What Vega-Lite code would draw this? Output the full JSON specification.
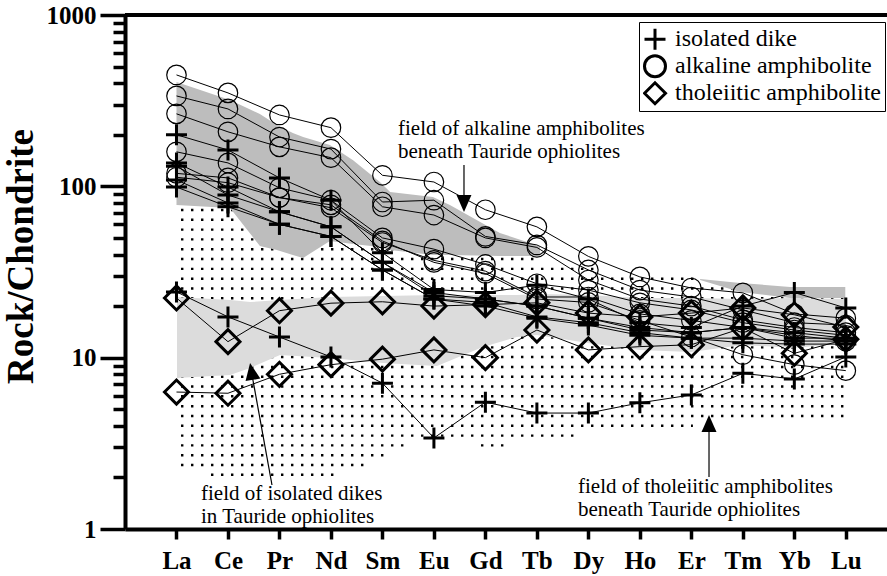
{
  "$schema": "https://vega.github.io/schema/vega-lite/v6.json",
  "width": 762,
  "height": 514,
  "autosize": {"type": "none"},
  "padding": {"left": 125, "top": 15, "right": 0, "bottom": 47},
  "background": "white",
  "config": {"view": {"stroke": null}},
  "datasets": {
    "elements": [
      {"el": "La", "n": 1}, {"el": "Ce", "n": 2}, {"el": "Pr", "n": 3}, {"el": "Nd", "n": 4},
      {"el": "Sm", "n": 5}, {"el": "Eu", "n": 6}, {"el": "Gd", "n": 7}, {"el": "Tb", "n": 8},
      {"el": "Dy", "n": 9}, {"el": "Ho", "n": 10}, {"el": "Er", "n": 11}, {"el": "Tm", "n": 12},
      {"el": "Yb", "n": 13}, {"el": "Lu", "n": 14}
    ],
    "samples": [
      {"sample": "A1", "group": "alkaline amphibolite", "La": 447, "Ce": 351, "Pr": 261, "Nd": 220, "Sm": 116, "Eu": 106, "Gd": 73, "Tb": 58, "Dy": 39, "Ho": 29.6, "Er": 25.5, "Tm": 23.9, "Yb": 18, "Lu": 17},
      {"sample": "A2", "group": "alkaline amphibolite", "La": 337, "Ce": 283, "Pr": 194, "Nd": 165, "Sm": 81, "Eu": 83, "Gd": 51, "Tb": 45.5, "Dy": 32.5, "Ho": 24.8, "Er": 22.6, "Tm": 19, "Yb": 16, "Lu": 15.5},
      {"sample": "A3", "group": "alkaline amphibolite", "La": 265, "Ce": 208, "Pr": 170, "Nd": 147, "Sm": 76, "Eu": 68, "Gd": 50, "Tb": 44, "Dy": 28.4, "Ho": 22, "Er": 20, "Tm": 16.6, "Yb": 15, "Lu": 14},
      {"sample": "A4", "group": "alkaline amphibolite", "La": 159, "Ce": 137, "Pr": 98, "Nd": 83, "Sm": 50, "Eu": 43, "Gd": 35, "Tb": 27, "Dy": 24.8, "Ho": 20.9, "Er": 19, "Tm": 16, "Yb": 14.5, "Lu": 13.5},
      {"sample": "A5", "group": "alkaline amphibolite", "La": 119, "Ce": 112, "Pr": 86, "Nd": 75, "Sm": 47, "Eu": 37, "Gd": 32, "Tb": 22.6, "Dy": 22.6, "Ho": 18, "Er": 16.5, "Tm": 15, "Yb": 13.5, "Lu": 12.5},
      {"sample": "A6", "group": "alkaline amphibolite", "La": 113, "Ce": 105, "Pr": 86, "Nd": 78, "Sm": 48, "Eu": 36, "Gd": 31, "Tb": 22, "Dy": 21, "Ho": 16.5, "Er": 13.2, "Tm": 10.4, "Yb": 9.1, "Lu": 8.4},
      {"sample": "D1", "group": "isolated dike", "La": 200, "Ce": 163, "Pr": 112, "Nd": 83, "Sm": 41, "Eu": 25, "Gd": 24, "Tb": 26.5, "Dy": 22, "Ho": 16, "Er": 15, "Tm": 20, "Yb": 24, "Lu": 19.5},
      {"sample": "D2", "group": "isolated dike", "La": 137, "Ce": 99, "Pr": 71, "Nd": 58, "Sm": 36, "Eu": 24, "Gd": 22, "Tb": 20, "Dy": 17, "Ho": 15, "Er": 14, "Tm": 15, "Yb": 14, "Lu": 13},
      {"sample": "D3", "group": "isolated dike", "La": 131, "Ce": 89, "Pr": 71, "Nd": 58, "Sm": 36, "Eu": 23, "Gd": 22, "Tb": 20, "Dy": 17, "Ho": 14.5, "Er": 14, "Tm": 15, "Yb": 13, "Lu": 13},
      {"sample": "D4", "group": "isolated dike", "La": 109, "Ce": 80, "Pr": 60, "Nd": 51, "Sm": 32.5, "Eu": 22, "Gd": 21, "Tb": 17.3, "Dy": 16, "Ho": 14, "Er": 13, "Tm": 13, "Yb": 12.5, "Lu": 12.5},
      {"sample": "D5", "group": "isolated dike", "La": 99, "Ce": 76, "Pr": 60, "Nd": 51, "Sm": 32.5, "Eu": 22, "Gd": 20, "Tb": 17, "Dy": 15.5, "Ho": 13.5, "Er": 13, "Tm": 12.2, "Yb": 12, "Lu": 12},
      {"sample": "D6", "group": "isolated dike", "La": 24.2, "Ce": 17.3, "Pr": 13.2, "Nd": 10.1, "Sm": 7.1, "Eu": 3.4, "Gd": 5.5, "Tb": 4.75, "Dy": 4.75, "Ho": 5.45, "Er": 6.06, "Tm": 8.1, "Yb": 7.5, "Lu": 10.1},
      {"sample": "T1", "group": "tholeiitic amphibolite", "La": 22.3, "Ce": 12.4, "Pr": 18.8, "Nd": 20.8, "Sm": 21.2, "Eu": 20, "Gd": 20.4, "Tb": 20.9, "Dy": 18.2, "Ho": 17.3, "Er": 18.2, "Tm": 19.5, "Yb": 17.8, "Lu": 15.1},
      {"sample": "T2", "group": "tholeiitic amphibolite", "La": 6.3, "Ce": 6.2, "Pr": 8.0, "Nd": 9.1, "Sm": 9.8, "Eu": 11.1, "Gd": 10, "Tb": 14.5, "Dy": 11.1, "Ho": 11.6, "Er": 11.9, "Tm": 14.9, "Yb": 10.6, "Lu": 12.8}
    ],
    "tholeiiticField": [
      {"level": 72.8, "from": 1.088, "to": 5.341},
      {"level": 63.8, "from": 1.088, "to": 5.341},
      {"level": 55.9, "from": 1.088, "to": 5.341},
      {"level": 49.0, "from": 1.088, "to": 5.73},
      {"level": 42.96, "from": 1.088, "to": 8.06},
      {"level": 37.65, "from": 1.088, "to": 8.06},
      {"level": 32.97, "from": 1.088, "to": 9.226},
      {"level": 28.9, "from": 1.088, "to": 11.168},
      {"level": 25.33, "from": 1.088, "to": 13.985},
      {"level": 22.2, "from": 1.088, "to": 13.985},
      {"level": 19.47, "from": 1.088, "to": 13.985},
      {"level": 17.06, "from": 1.088, "to": 13.985},
      {"level": 14.96, "from": 1.088, "to": 13.985},
      {"level": 13.11, "from": 1.088, "to": 13.985},
      {"level": 11.49, "from": 1.088, "to": 13.985},
      {"level": 10.08, "from": 1.088, "to": 13.985},
      {"level": 8.83, "from": 1.088, "to": 13.985},
      {"level": 7.74, "from": 1.088, "to": 13.985},
      {"level": 6.79, "from": 1.088, "to": 13.985},
      {"level": 5.95, "from": 1.088, "to": 13.985},
      {"level": 5.21, "from": 1.088, "to": 13.985},
      {"level": 4.566, "from": 1.088, "to": 13.985},
      {"level": 4.003, "from": 1.088, "to": 11.03},
      {"level": 3.509, "from": 1.088, "to": 8.837},
      {"level": 3.075, "from": 1.088, "to": 5.535},
      {"level": 3.075, "from": 6.9145, "to": 7.419},
      {"level": 2.696, "from": 1.088, "to": 5.147},
      {"level": 2.363, "from": 1.088, "to": 4.70},
      {"level": 2.072, "from": 1.6704, "to": 4.118}
    ],
    "alkalineField": [
      {"part": "main", "x": 1.0, "top": 406, "bottom": 77.8},
      {"part": "main", "x": 2.04, "top": 319, "bottom": 74.7},
      {"part": "main", "x": 2.62, "top": 264, "bottom": 44.8},
      {"part": "main", "x": 2.95, "top": 228, "bottom": 42.5},
      {"part": "main", "x": 3.26, "top": 205, "bottom": 39.7},
      {"part": "main", "x": 3.46, "top": 194, "bottom": 38.2},
      {"part": "main", "x": 3.98, "top": 174, "bottom": 48.0},
      {"part": "main", "x": 4.43, "top": 142, "bottom": 46.1},
      {"part": "main", "x": 4.95, "top": 106, "bottom": 44.2},
      {"part": "main", "x": 5.15, "top": 92.7, "bottom": 42.5},
      {"part": "main", "x": 5.98, "top": 86.6, "bottom": 39.7},
      {"part": "main", "x": 6.31, "top": 77.8, "bottom": 39.7},
      {"part": "main", "x": 7.28, "top": 53.4, "bottom": 39.2},
      {"part": "main", "x": 7.87, "top": 46.7, "bottom": 39.2},
      {"part": "main", "x": 8.06, "top": 44.2, "bottom": 39.2},
      {"part": "tail", "x": 11.17, "top": 28.8, "bottom": 28.4},
      {"part": "tail", "x": 11.95, "top": 27.3, "bottom": 24.2},
      {"part": "tail", "x": 12.92, "top": 25.85, "bottom": 22.3},
      {"part": "tail", "x": 13.99, "top": 25.85, "bottom": 22.3}
    ],
    "dikeField": [
      {"x": 1.01, "top": 22.6, "bottom": 7.61},
      {"x": 2.04, "top": 21.7, "bottom": 7.92},
      {"x": 2.43, "top": 21.1, "bottom": 8.71},
      {"x": 3.01, "top": 21.7, "bottom": 10.37},
      {"x": 3.98, "top": 22.6, "bottom": 9.96},
      {"x": 5.01, "top": 22.9, "bottom": 9.31},
      {"x": 6.06, "top": 23.2, "bottom": 8.94},
      {"x": 6.95, "top": 23.2, "bottom": 11.54},
      {"x": 7.61, "top": 23.2, "bottom": 13.2},
      {"x": 8.0, "top": 23.5, "bottom": 13.56},
      {"x": 8.99, "top": 23.2, "bottom": 12.18},
      {"x": 10.0, "top": 22.3, "bottom": 11.08},
      {"x": 10.99, "top": 22.3, "bottom": 10.79},
      {"x": 12.0, "top": 22.0, "bottom": 11.86},
      {"x": 12.99, "top": 22.3, "bottom": 11.39},
      {"x": 14.0, "top": 22.0, "bottom": 12.18}
    ]
  },
  "layer": [
    {
      "data": {"name": "tholeiiticField"},
      "mark": {"type": "rule", "strokeDash": [2.4, 7.6], "strokeWidth": 2.4, "color": "black", "strokeCap": "butt"},
      "encoding": {
        "x": {"field": "from", "type": "quantitative", "scale": {"domain": [0, 14.8], "nice": false, "zero": false},
          "axis": {"values": [1,2,3,4,5,6,7,8,9,10,11,12,13,14],
            "labelExpr": "['','La','Ce','Pr','Nd','Sm','Eu','Gd','Tb','Dy','Ho','Er','Tm','Yb','Lu'][datum.value]",
            "title": null, "grid": false, "tickSize": 10, "tickWidth": 3.5, "tickColor": "black",
            "domainColor": "black", "domainWidth": 4, "labelFont": "Liberation Serif", "labelFontWeight": "bold",
            "labelFontSize": 25, "labelColor": "black", "labelPadding": 9, "labelFlush": false, "labelOverlap": false}},
        "x2": {"field": "to"},
        "y": {"field": "level", "type": "quantitative",
          "scale": {"type": "log", "domain": [1, 1000], "nice": false},
          "axis": {"values": [1,2,3,4,5,6,7,8,9,10,20,30,40,50,60,70,80,90,100,200,300,400,500,600,700,800,900,1000],
            "labelExpr": "indexof([1,10,100,1000], datum.value) >= 0 ? '' + datum.value : ''",
            "tickSize": {"condition": {"test": "indexof([1,10,100,1000], datum.value) >= 0", "value": 25}, "value": 12},
            "tickWidth": 3.5, "tickColor": "black", "domainColor": "black", "domainWidth": 4,
            "labelFont": "Liberation Serif", "labelFontWeight": "bold", "labelFontSize": 25, "labelColor": "black",
            "labelPadding": 4, "labelFlush": false, "labelOverlap": false, "grid": false,
            "title": "Rock/Chondrite", "titleFont": "Liberation Serif", "titleFontSize": 37, "titleFontWeight": "bold",
            "titleColor": "black", "titlePadding": 6, "titleY": 241}}
      }
    },
    {
      "data": {"name": "alkalineField"},
      "mark": {"type": "area", "color": "#bdbdbd", "opacity": 1, "interpolate": "linear"},
      "encoding": {
        "x": {"field": "x", "type": "quantitative"},
        "y": {"field": "top", "type": "quantitative"},
        "y2": {"field": "bottom"},
        "detail": {"field": "part"}
      }
    },
    {
      "data": {"name": "dikeField"},
      "mark": {"type": "area", "color": "#dcdcdc", "opacity": 1, "interpolate": "linear"},
      "encoding": {
        "x": {"field": "x", "type": "quantitative"},
        "y": {"field": "top", "type": "quantitative"},
        "y2": {"field": "bottom"}
      }
    },
    {
      "data": {"name": "samples"},
      "transform": [
        {"fold": ["La","Ce","Pr","Nd","Sm","Eu","Gd","Tb","Dy","Ho","Er","Tm","Yb","Lu"], "as": ["el", "v"]},
        {"lookup": "el", "from": {"data": {"name": "elements"}, "key": "el", "fields": ["n"]}}
      ],
      "layer": [
        {
          "mark": {"type": "line", "color": "black", "strokeWidth": 1},
          "encoding": {
            "x": {"field": "n", "type": "quantitative"},
            "y": {"field": "v", "type": "quantitative"},
            "detail": {"field": "sample"}
          }
        },
        {
          "mark": {"type": "point", "filled": false, "color": "black", "opacity": 1},
          "encoding": {
            "x": {"field": "n", "type": "quantitative"},
            "y": {"field": "v", "type": "quantitative"},
            "shape": {"field": "group", "type": "nominal",
              "scale": {"domain": ["isolated dike", "alkaline amphibolite", "tholeiitic amphibolite"],
                        "range": ["M-1,0L1,0M0,-1L0,1", "circle", "diamond"]},
              "legend": {"title": null, "orient": "none", "legendX": 514, "legendY": 7,
                "strokeColor": "black", "fillColor": "white", "padding": 4,
                "labelFont": "Liberation Serif", "labelFontSize": 24, "labelColor": "black", "labelLimit": 400,
                "rowPadding": 0, "clipHeight": 26.5, "labelOffset": 8, "symbolStrokeColor": "black", "symbolFillColor": "transparent",
                "symbolSize": 441, "symbolStrokeWidth": 3,
                "encode": {
                  "legend": {"update": {"strokeWidth": {"value": 1.5}}},
                  "symbols": {"update": {
                    "size": {"signal": "datum.value === 'tholeiitic amphibolite' ? 420 : 441"},
                    "strokeWidth": {"signal": "datum.value === 'alkaline amphibolite' ? 1.6 : 3"}}}}}},
            "size": {"condition": [
                {"test": "datum.group === 'alkaline amphibolite'", "value": 380},
                {"test": "datum.group === 'isolated dike'", "value": 441}], "value": 576},
            "strokeWidth": {"condition": {"test": "datum.group === 'alkaline amphibolite'", "value": 1.2}, "value": 3}
          }
        }
      ]
    },
    {
      "data": {"values": [{}]},
      "mark": {"type": "rule", "strokeWidth": 4, "color": "black"},
      "encoding": {"y": {"datum": 1000}}
    },
    {
      "data": {"values": [{}]},
      "mark": {"type": "rule", "strokeWidth": 1.2, "color": "black"},
      "encoding": {"x": {"datum": 6.584}, "y": {"datum": 133.2}, "y2": {"datum": 83.2}}
    },
    {
      "data": {"values": [{}]},
      "mark": {"type": "point", "shape": "M0,1L-0.88,-1L0.88,-1Z", "size": 289, "filled": true, "color": "black", "opacity": 1},
      "encoding": {"x": {"datum": 6.584}, "y": {"datum": 79.4}}
    },
    {
      "data": {"values": [{}]},
      "mark": {"type": "rule", "strokeWidth": 1.2, "color": "black"},
      "encoding": {"x": {"datum": 2.855}, "x2": {"datum": 2.467}, "y": {"datum": 1.806}, "y2": {"datum": 7.92}}
    },
    {
      "data": {"values": [{}]},
      "mark": {"type": "point", "shape": "M0,-1L-0.88,1L0.88,1Z", "size": 289, "filled": true, "color": "black", "opacity": 1, "angle": 350.2},
      "encoding": {"x": {"datum": 2.457}, "y": {"datum": 8.31}}
    },
    {
      "data": {"values": [{}]},
      "mark": {"type": "rule", "strokeWidth": 1.2, "color": "black"},
      "encoding": {"x": {"datum": 11.343}, "y": {"datum": 2.012}, "y2": {"datum": 3.783}}
    },
    {
      "data": {"values": [{}]},
      "mark": {"type": "point", "shape": "M0,-1L-0.88,1L0.88,1Z", "size": 289, "filled": true, "color": "black", "opacity": 1},
      "encoding": {"x": {"datum": 11.343}, "y": {"datum": 4.128}}
    },
    {
      "data": {"values": [{}]},
      "mark": {"type": "text", "text": ["field of alkaline amphibolites", "beneath Tauride ophiolites"],
        "font": "Liberation Serif", "fontSize": 21, "align": "left", "baseline": "alphabetic", "lineHeight": 22.5, "color": "black"},
      "encoding": {"x": {"datum": 5.302}, "y": {"datum": 199.3}}
    },
    {
      "data": {"values": [{}]},
      "mark": {"type": "text", "text": ["field of isolated dikes", "in Tauride ophiolites"],
        "font": "Liberation Serif", "fontSize": 21, "align": "left", "baseline": "alphabetic", "lineHeight": 23, "color": "black"},
      "encoding": {"x": {"datum": 1.476}, "y": {"datum": 1.476}}
    },
    {
      "data": {"values": [{}]},
      "mark": {"type": "text", "text": ["field of tholeiitic amphibolites", "beneath Tauride ophiolites"],
        "font": "Liberation Serif", "fontSize": 21, "align": "left", "baseline": "alphabetic", "lineHeight": 23, "color": "black"},
      "encoding": {"x": {"datum": 8.798}, "y": {"datum": 1.616}}
    }
  ]
}
